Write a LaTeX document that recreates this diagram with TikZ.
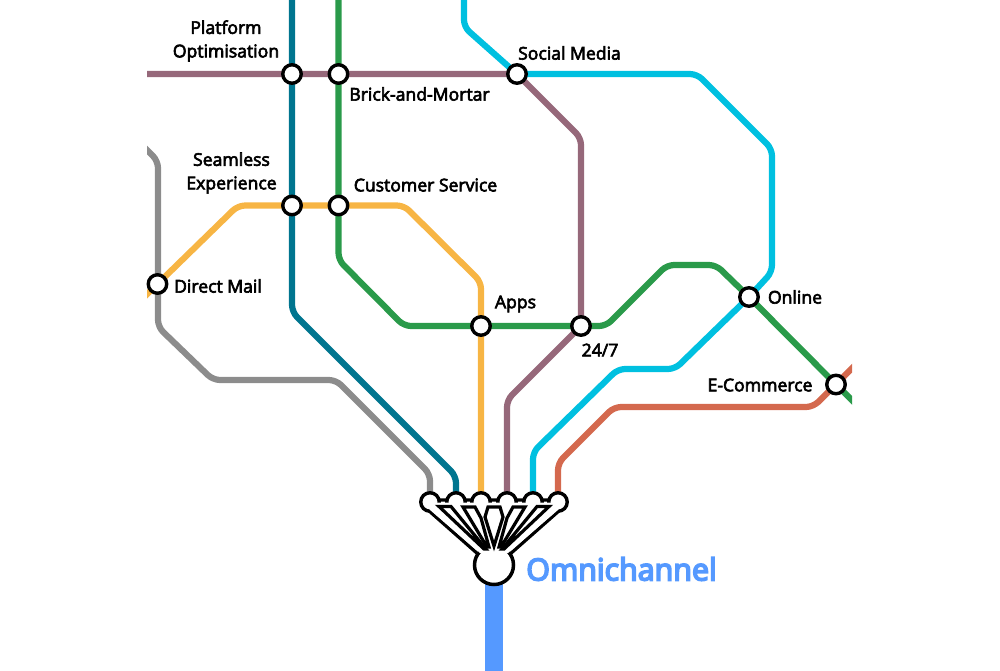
\documentclass[tikz,border=0pt]{standalone}
\usepackage{fontspec}
\setmainfont{Open Sans}[FakeBold=3.5]
\newfontfamily\omnifont{Open Sans}[FakeBold=5.5]
\usetikzlibrary{backgrounds}
\definecolor{mauve}{HTML}{96687A}
\definecolor{teal}{HTML}{00758F}
\definecolor{green}{HTML}{2A9A4A}
\definecolor{amber}{HTML}{F7B544}
\definecolor{cyan}{HTML}{00C0E0}
\definecolor{rust}{HTML}{D4694E}
\definecolor{slate}{HTML}{8C8C8C}
\definecolor{omni}{HTML}{5599FF}
\tikzset{
	station/.style={circle,draw=black,fill=white,line width=3.4pt,minimum size=18.5pt,inner sep=0pt},
	hubstop/.style={circle,draw=black,fill=white,line width=3.5pt,minimum size=39pt,inner sep=0pt},
	metro/.style={line width=6.2pt,rounded corners=7pt},
	lbl/.style={font=\fontsize{17.6}{23.5}\selectfont,align=center,text=black,inner sep=0pt},
	gap/.style={draw=black,fill=white,line width=3.2pt,line join=miter}
}
\begin{document}
\begin{tikzpicture}[x=1pt,y=-1pt]
	\useasboundingbox (0,0) rectangle (1000,670);
	% free ends of the lines
	\coordinate (mauvein) at (140,74);
	\coordinate (tealin) at (292,-10);
	\coordinate (greenin) at (338.5,-10);
	\coordinate (cyanin) at (464,-10);
	\coordinate (amberin) at (140,301);
	\coordinate (slatein) at (140,143);
	\coordinate (greenout) at (862,410);
	\coordinate (rustin) at (862,358);
	\coordinate (omniout) at (494,680);
	% the fan below goes first, stops on top of it
	\draw[black,fill=white,line width=3.2pt,line join=round] (430,500)--(558,500)--(560,510)--(509,555)--(479,555)--(428,510)--cycle;
	\node[station] (platform) at (292,74){};
	\node[station] (brick) at (338.5,74){};
	\node[station] (social) at (517,74){};
	\node[station] (seamless) at (292,205.5){};
	\node[station] (customer) at (338.5,205.5){};
	\node[station] (direct) at (157.5,284){};
	\node[station] (apps) at (481,326){};
	\node[station] (allday) at (581,326){};
	\node[station] (online) at (749,297){};
	\node[station] (ecommerce) at (836,384.5){};
	\node[station] (endslate) at (430,502){};
	\node[station] (endteal) at (456,502){};
	\node[station] (endamber) at (481,502){};
	\node[station] (endmauve) at (507,502){};
	\node[station] (endcyan) at (533,502){};
	\node[station] (endrust) at (558,502){};
	\node[hubstop] (hub) at (494,565){};
	% open the stops into the fan
	\fill[white] (430,502.5)--(558,502.5)--(558.5,509.5)--(508,553)--(480,553)--(429.5,509.5)--cycle;
	\draw[gap] (439,506.5)--(451,506.5)--(486,549)--(484,549)--cycle;
	\draw[gap] (463,507)--(475,507)--(481,518)--(489,547)--(487,547)--cycle;
	\draw[gap] (488,507)--(500,507)--(503,517)--(494,546)--(485,517)--cycle;
	\draw[gap] (513,507)--(525,507)--(501,547)--(499,547)--(507,518)--cycle;
	\draw[gap] (537,506.5)--(549,506.5)--(504,549)--(502,549)--cycle;
	\node[lbl] at (226,41){Platform\\Optimisation};
	\node[lbl] at (419.5,94){Brick-and-Mortar};
	\node[lbl] at (569.5,53){Social Media};
	\node[lbl] at (231.5,173){Seamless\\Experience};
	\node[lbl] at (425.5,185){Customer Service};
	\node[lbl] at (218,286){Direct Mail};
	\node[lbl] at (515.5,304){Apps};
	\node[lbl] at (600,350){24/7};
	\node[lbl] at (795,297){Online};
	\node[lbl] at (760,385){E-Commerce};
	\node[lbl,text=omni,font=\omnifont\fontsize{30.4}{32}\selectfont] at (621.5,569){Omnichannel};
	\begin{scope}[on background layer]
		\clip (147,0) rectangle (852,670);
		\draw[metro,slate] (slatein)--(158,161)--(158,327)--(213,380)--(336,380)--(430,474)--(endslate.center);
		\draw[metro,teal] (tealin)--(platform.center)--(seamless.center)--(292,312)--(456,476)--(endteal.center);
		\draw[metro,amber] (amberin)--(direct.center)--(238,205.5)--(seamless.center)--(customer.center)--(404,205.5)--(481,282)--(apps.center)--(endamber.center);
		\draw[metro,mauve] (mauvein)--(platform.center)--(brick.center)--(social.center)--(581,138)--(allday.center)--(507,400)--(endmauve.center);
		\draw[metro,green] (greenin)--(brick.center)--(customer.center)--(338.5,260)--(404,326)--(apps.center)--(allday.center)--(606,326)--(667,265)--(716,265)--(online.center)--(ecommerce.center)--(greenout);
		\draw[metro,cyan] (cyanin)--(464,27)--(social.center)--(697,74)--(772,149)--(772,272)--(online.center)--(675,369)--(618,369)--(533,452)--(endcyan.center);
		\draw[metro,rust] (rustin)--(ecommerce.center)--(813,407)--(614,407)--(558,463)--(endrust.center);
		\draw[omni,line width=18pt] (hub.center)--(omniout);
	\end{scope}
\end{tikzpicture}
\end{document}
